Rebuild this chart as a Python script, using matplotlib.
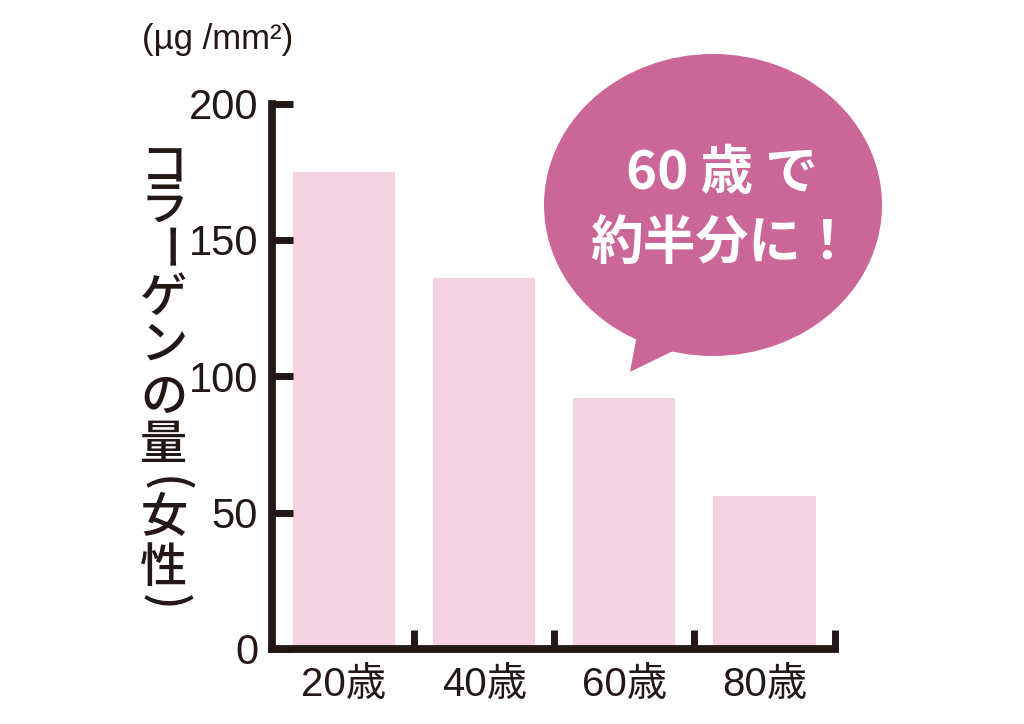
import matplotlib
matplotlib.use("Agg")
import matplotlib.pyplot as plt
from matplotlib import font_manager
from matplotlib.patches import Ellipse, Polygon

# ── data ──────────────────────────────────────────────────────────────────
AGES    = ["20歳", "40歳", "60歳", "80歳"]
AMOUNTS = [175, 136, 92, 56]          # collagen, µg/mm²
Y_TICKS = [0, 50, 100, 150, 200]

INK    = '#231815'
BAR    = '#F4D2E2'
BUBBLE = '#CB6698'

installed = {f.name for f in font_manager.fontManager.ttflist}
NUM_FONT = 'Liberation Sans Narrow' if 'Liberation Sans Narrow' in installed else 'Liberation Sans'
FAMILY = [NUM_FONT, 'Noto Sans CJK JP', 'DejaVu Sans']
CJK = ['Noto Sans CJK JP', 'DejaVu Sans']
plt.rcParams['font.family'] = FAMILY

W, H = 1024, 724
fig = plt.figure(figsize=(W / 100, H / 100), dpi=100)

# main axes placed in pixel terms of the 1024x724 canvas
ax = fig.add_axes([272 / W, 75 / H, (834.5 - 272) / W, (649 - 103.5) / H])
x = list(range(len(AGES)))
ax.bar(x, AMOUNTS, width=0.73, color=BAR, zorder=1)

ax.set_xlim(-0.514, 3.5)
ax.set_ylim(0, 200)
for s in ['top', 'right']:
    ax.spines[s].set_visible(False)
for s in ['left', 'bottom']:
    ax.spines[s].set_color(INK)
    ax.spines[s].set_linewidth(5.6)
    ax.spines[s].set_capstyle('projecting')
    ax.spines[s].set_zorder(3)

ax.set_yticks(Y_TICKS)
ax.set_yticklabels([str(v) for v in Y_TICKS])
ax.tick_params(axis='y', direction='in', length=15, width=5, color=INK,
               labelsize=30, labelcolor=INK, pad=10)

# boundary ticks between the bars, labels on minor ticks
ax.set_xticks([i + 0.5 for i in x])
ax.set_xticklabels([''] * len(x))
ax.tick_params(axis='x', which='major', direction='in', length=14, width=5, color=INK)
ax.set_xticks(x, minor=True)
ax.set_xticklabels(AGES, minor=True)
ax.tick_params(axis='x', which='minor', length=0, labelsize=29, labelcolor=INK, pad=12)

# ── overlay in pixel coordinates for the annotations ─────────────────────
ov = fig.add_axes([0, 0, 1, 1], zorder=5)
ov.set_xlim(0, W)
ov.set_ylim(H, 0)
ov.axis('off')

ov.text(218, 40, "(µg /mm²)", ha='center', va='center', fontsize=25, color=INK)

# vertical y-axis label, one glyph per line; bar and brackets turned upright
label_chars = ["コ", "ラ", "ー", "ゲ", "ン", "の", "量", "(", "女", "性", ")"]
label_y     = [167, 207, 250, 298, 345, 397, 445, 484, 518, 569, 602]
for ch, yy in zip(label_chars, label_y):
    ov.text(164, yy, ch, ha='center', va='center', fontsize=34, color=INK,
            family=CJK, fontweight='medium',
            rotation=-90 if ch in "ー()" else 0)

# speech bubble
ov.add_patch(Ellipse((713, 205), 338, 302, color=BUBBLE, lw=0))
ov.add_patch(Polygon([(640, 320), (637, 335), (630, 372), (675, 350), (685, 330)],
                     closed=True, color=BUBBLE, lw=0))
ov.text(722, 174, "60 歳 で", ha='center', va='center', fontsize=38,
        fontweight='bold', color='white', family=CJK)
ov.text(722, 243, "約半分に！", ha='center', va='center', fontsize=38,
        fontweight='bold', color='white', family=CJK)

fig.savefig("out.png", dpi=100)
